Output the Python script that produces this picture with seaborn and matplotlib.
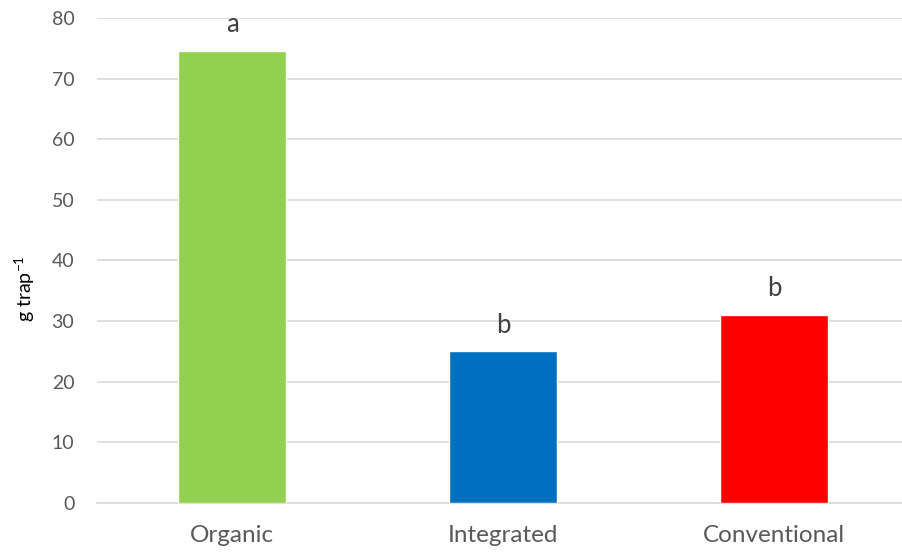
import pandas as pd
import matplotlib.pyplot as plt
import seaborn as sns

# data
systems = ['Organic', 'Integrated', 'Conventional']
catch = [74.6, 25.0, 31.0]
letters = ['a', 'b', 'b']
colors = ['#92D050', '#0070C0', '#FF0000']

df = pd.DataFrame({'system': systems, 'catch': catch})

sns.set_theme(style='white')
plt.rcParams['font.family'] = ['Lato', 'DejaVu Sans']

fig = plt.figure(figsize=(9.02, 5.53), dpi=100)
ax = fig.add_axes([0.107, 0.0904, 0.893, 0.8771])

sns.barplot(data=df, x='system', y='catch', hue='system',
            palette=dict(zip(systems, colors)), width=0.4,
            saturation=1, legend=False, ax=ax, zorder=3)

# significance letters above bars
for i, (v, lab) in enumerate(zip(catch, letters)):
    ax.text(i, v + 4.3, lab, ha='center', va='center', fontsize=18.5, color='#404040')

ax.set_ylim(0, 80)
ax.set_xlim(-0.5, 2.472)
ax.set_yticks(range(0, 81, 10))
ax.yaxis.grid(True, color='#D9D9D9', linewidth=1.2, zorder=0)
for s in ['top', 'right', 'left']:
    ax.spines[s].set_visible(False)
ax.spines['bottom'].set_color('#D9D9D9')
ax.spines['bottom'].set_linewidth(1.2)
ax.tick_params(axis='y', length=0, labelsize=14, colors='#595959', pad=16)
ax.tick_params(axis='x', length=0, labelsize=17.5, colors='#595959', pad=16)
ax.set_xlabel('')
ax.set_ylabel(r'g trap$^{\mathregular{-1}}$', fontsize=14, color='black')
ax.yaxis.set_label_coords(-0.074, 0.443)

fig.savefig('out.png', dpi=100)
